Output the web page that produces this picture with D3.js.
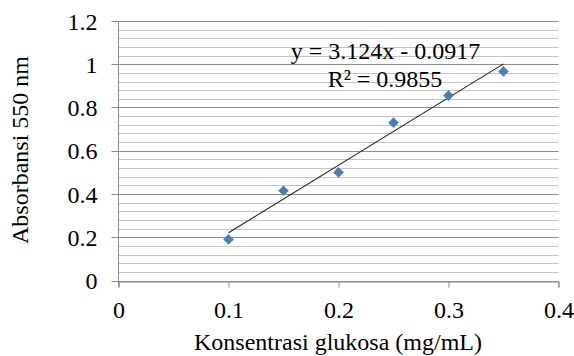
<!DOCTYPE html>
<html><head><meta charset="utf-8">
<script src="https://cdn.jsdelivr.net/npm/d3@7"></script>
<style>body{margin:0;background:#fff}svg{display:block}</style>
</head><body>
<script>
const xValues = [0.1, 0.15, 0.2, 0.25, 0.3, 0.35];
const yValues = [0.19, 0.415, 0.50, 0.73, 0.855, 0.967];
const xTicks = [0, 0.1, 0.2, 0.3, 0.4];
const yTicks = [0, 0.2, 0.4, 0.6, 0.8, 1, 1.2];
const yMinorTicks = d3.range(0, 1.2001, 0.04);
const slope = 3.124, intercept = -0.0917;
const trendRange = [0.1, 0.35];
const eqText = "y = 3.124x - 0.0917";
const r2Text = "R² = 0.9855";
const xTitle = "Konsentrasi glukosa (mg/mL)";
const yTitle = "Absorbansi 550 nm";

const FONT = "'Liberation Serif', 'Times New Roman', Tinos, 'DejaVu Serif', serif";
const W = 574, H = 356;
const svg = d3.select("body").append("svg").attr("width", W).attr("height", H)
  .style("font-family", FONT);
const x = d3.scaleLinear().domain([0, 0.4]).range([118.5, 558.5]);
const y = d3.scaleLinear().domain([0, 1.2]).range([280.5, 21]);

// minor gridlines
svg.append("g").selectAll("line").data(yMinorTicks).join("line")
  .attr("x1", x(0)).attr("x2", x(0.4))
  .attr("y1", d => Math.round(y(d)) + 0.5).attr("y2", d => Math.round(y(d)) + 0.5)
  .attr("stroke", "#c4c4c4").attr("stroke-width", 1);
// major gridlines
svg.append("g").selectAll("line").data(yTicks).join("line")
  .attr("x1", x(0) - 7).attr("x2", x(0.4))
  .attr("y1", d => Math.round(y(d)) + 0.5).attr("y2", d => Math.round(y(d)) + 0.5)
  .attr("stroke", "#8c8c8c").attr("stroke-width", 1);

// y axis
const yAxis = d3.axisLeft(y).tickValues(yTicks).tickSize(0).tickPadding(0).tickFormat(d => d3.format("")(d));
const gy = svg.append("g").attr("transform", `translate(${x(0)},0)`).call(yAxis);
gy.attr("font-family", null).attr("font-size", null);
gy.select(".domain").remove();
gy.selectAll("text").attr("x", -21).attr("dy", "0.34em")
  .style("font-size", "24px").style("font-family", FONT).attr("fill", "#000");
svg.append("line").attr("x1", x(0)).attr("x2", x(0)).attr("y1", y(1.2)).attr("y2", y(0) + 6)
  .attr("stroke", "#8c8c8c");

// x axis
const xAxis = d3.axisBottom(x).tickValues(xTicks).tickSize(6).tickPadding(0).tickFormat(d => d3.format("")(d));
const gx = svg.append("g").attr("transform", `translate(0,${Math.round(y(0)) + 0.5})`).call(xAxis);
gx.attr("font-family", null).attr("font-size", null);
gx.select(".domain").attr("stroke", "#8c8c8c");
gx.selectAll(".tick line").attr("stroke", "#8c8c8c");
gx.selectAll("text").attr("y", 36).attr("dy", 0)
  .style("font-size", "24px").style("font-family", FONT).attr("fill", "#000");

// trendline
svg.append("line")
  .attr("x1", x(trendRange[0])).attr("y1", y(slope * trendRange[0] + intercept))
  .attr("x2", x(trendRange[1])).attr("y2", y(slope * trendRange[1] + intercept))
  .attr("stroke", "#222").attr("stroke-width", 1.1);

// points (square diamonds)
const r = 5.3;
const diamondPath = `M0,${-r}L${r},0L0,${r}L${-r},0Z`;
svg.append("g").selectAll("path").data(xValues.map((v, i) => [v, yValues[i]])).join("path")
  .attr("d", diamondPath)
  .attr("transform", d => `translate(${x(d[0])},${y(d[1])})`)
  .attr("fill", "#4a7ebb");

// equation
svg.append("text").attr("x", 385.5).attr("y", 59).attr("text-anchor", "middle").style("font-size", "24px").text(eqText);
svg.append("text").attr("x", 385).attr("y", 87).attr("text-anchor", "middle").style("font-size", "24px").text(r2Text);

// titles
svg.append("text").attr("x", 338).attr("y", 350).attr("text-anchor", "middle").style("font-size", "24px").text(xTitle);
svg.append("text").attr("transform", "translate(28,150) rotate(-90)").attr("text-anchor", "middle").style("font-size", "24px").text(yTitle);
</script>
</body></html>
